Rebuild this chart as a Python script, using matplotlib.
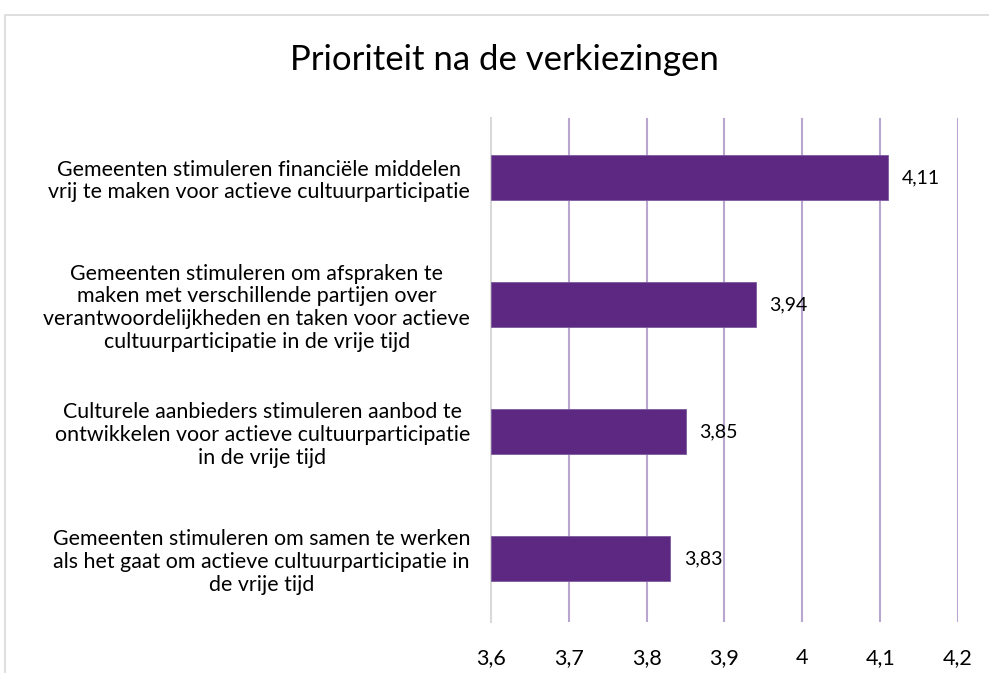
import matplotlib.pyplot as plt
from matplotlib.patches import Rectangle
from matplotlib.ticker import FuncFormatter

plt.rcParams['font.family'] = ['Lato', 'DejaVu Sans']

# data (top to bottom as shown)
categories = [
    "Gemeenten stimuleren financiële middelen\nvrij te maken voor actieve cultuurparticipatie",
    "Gemeenten stimuleren om afspraken te\nmaken met verschillende partijen over\nverantwoordelijkheden en taken voor actieve\ncultuurparticipatie in de vrije tijd",
    "Culturele aanbieders stimuleren aanbod te\nontwikkelen voor actieve cultuurparticipatie\nin de vrije tijd",
    "Gemeenten stimuleren om samen te werken\nals het gaat om actieve cultuurparticipatie in\nde vrije tijd",
]
values = [4.11, 3.94, 3.85, 3.83]
ticks = [3.6, 3.7, 3.8, 3.9, 4.0, 4.1, 4.2]

bar_color = '#5C2882'
grid_color = '#B9A6D0'

fig = plt.figure(figsize=(9.89, 6.73), dpi=100)
ax = fig.add_axes([491 / 989, 51 / 673, 467 / 989, 508 / 673])

# outer chart border
fig.patches.append(Rectangle((5 / 989, -0.05), 1.0, (673 - 15) / 673 + 0.05,
                             transform=fig.transFigure, fill=False,
                             edgecolor='#D9D9D9', linewidth=1.2))

pos = list(range(len(categories)))
ax.barh(pos, [v - ticks[0] for v in values], left=ticks[0], height=0.355,
        color=bar_color, edgecolor='#7E5A9E', linewidth=0.6, zorder=3)

for p, v in zip(pos, values):
    ax.annotate(f"{v:.2f}".replace('.', ','), xy=(v, p), xytext=(10, 0),
                textcoords='offset points', va='center', ha='left',
                fontsize=14, color='#000000', zorder=4)

ax.set_xlim(ticks[0], ticks[-1])
ax.set_ylim(len(categories) - 0.5, -0.5)
ax.set_xticks(ticks)
ax.xaxis.set_major_formatter(FuncFormatter(lambda x, _: f"{x:g}".replace('.', ',')))
ax.set_yticks(pos)
ax.set_yticklabels(categories, fontsize=15.4, multialignment='center',
                   linespacing=1.17)

# gridlines start a little below the axes top, as in the original
for t in ticks[1:]:
    ax.axvline(t, ymin=0.0, ymax=0.99, color=grid_color, linewidth=1.5, zorder=1)

for s in ['top', 'right', 'bottom']:
    ax.spines[s].set_visible(False)
ax.spines['left'].set_color('#D9D9D9')
ax.spines['left'].set_linewidth(1.5)
ax.spines['left'].set_bounds(len(categories) - 0.5, -0.47)
ax.tick_params(axis='both', length=0)
ax.tick_params(axis='x', labelsize=15.5, pad=19)
ax.tick_params(axis='y', pad=15)

fig.text(504 / 989, 1 - 60 / 673, "Prioriteit na de verkiezingen",
         ha='center', va='center', fontsize=25)

fig.savefig('out.png', dpi=100)
